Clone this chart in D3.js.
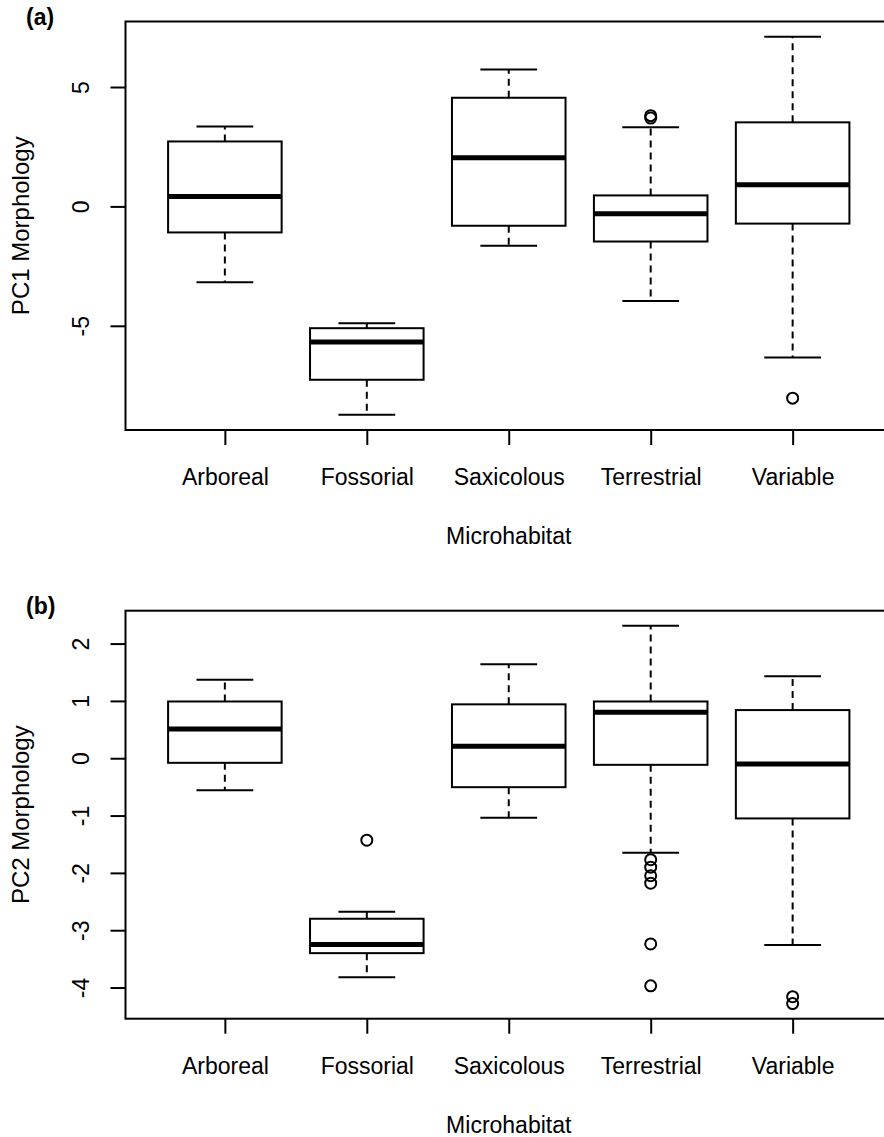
<!DOCTYPE html>
<html>
<head>
<meta charset="utf-8">
<script src="https://cdn.jsdelivr.net/npm/d3@7"></script>
<style>
  html, body { margin: 0; padding: 0; background: #fff; }
  svg { display: block; font-family: "Liberation Sans", Arial, sans-serif; }
</style>
</head>
<body>
<svg id="chart" width="884" height="1137"></svg>
<script>
// ---- data ----
const microhabitats = ["Arboreal", "Fossorial", "Saxicolous", "Terrestrial", "Variable"];

// panel (a): PC1
const pc1Low  = [-3.18, -8.73, -1.65, -3.96, -6.33];
const pc1Q1   = [-1.09, -7.26, -0.81, -1.47, -0.72];
const pc1Med  = [ 0.42, -5.68,  2.04, -0.31,  0.91];
const pc1Q3   = [ 2.72, -5.10,  4.55,  0.46,  3.52];
const pc1High = [ 3.35, -4.89,  5.73,  3.31,  7.11];
const pc1Out  = [[], [], [], [3.70, 3.80], [-8.03]];
const pc1Ticks = [-5, 0, 5];

// panel (b): PC2
const pc2Low  = [-0.56, -3.82, -1.04, -1.65, -3.26];
const pc2Q1   = [-0.08, -3.40, -0.505, -0.115, -1.05];
const pc2Med  = [ 0.51, -3.25,  0.21,  0.80, -0.10];
const pc2Q3   = [ 0.99, -2.80,  0.94,  0.99,  0.84];
const pc2High = [ 1.37, -2.68,  1.64,  2.31,  1.43];
const pc2Out  = [[], [-1.43], [], [-1.77, -1.90, -2.05, -2.18, -3.24, -3.97], [-4.16, -4.28]];
const pc2Ticks = [-4, -3, -2, -1, 0, 1, 2];

// ---- layout ----
const svg = d3.select("#chart");
const LEFT = 125.5, RIGHT = 892;
const FONT = 23;

const x = d3.scaleLinear().domain([0.3, 5.7]).range([LEFT, RIGHT]);
const unit = x(2) - x(1);

function drawPanel(opt) {
  const { top, bottom, low, q1, med, q3, high, out, ticks, yLabel, tag } = opt;

  // R style: 4% padding around data range
  const all = low.concat(high, out.flat());
  const [mn, mx] = d3.extent(all);
  const pad = (mx - mn) * 0.04;
  const y = d3.scaleLinear().domain([mn - pad, mx + pad]).range([bottom, top]);

  const g = svg.append("g");

  const rows = microhabitats.map((name, i) => ({
    name, i: i + 1, low: low[i], q1: q1[i], med: med[i], q3: q3[i], high: high[i], out: out[i]
  }));

  const box = g.selectAll("g.box").data(rows).join("g").attr("class", "box");

  // whiskers (dashed)
  box.append("line")
    .attr("x1", d => x(d.i)).attr("x2", d => x(d.i))
    .attr("y1", d => y(d.q3)).attr("y2", d => y(d.high))
    .attr("stroke", "#000").attr("stroke-width", 2).attr("stroke-dasharray", "7,5");
  box.append("line")
    .attr("x1", d => x(d.i)).attr("x2", d => x(d.i))
    .attr("y1", d => y(d.q1)).attr("y2", d => y(d.low))
    .attr("stroke", "#000").attr("stroke-width", 2).attr("stroke-dasharray", "7,5");

  // staples
  [d => d.high, d => d.low].forEach(acc => {
    box.append("line")
      .attr("x1", d => x(d.i - 0.2)).attr("x2", d => x(d.i + 0.2))
      .attr("y1", d => y(acc(d))).attr("y2", d => y(acc(d)))
      .attr("stroke", "#000").attr("stroke-width", 2);
  });

  // box
  box.append("rect")
    .attr("x", d => x(d.i - 0.4))
    .attr("width", unit * 0.8)
    .attr("y", d => y(d.q3))
    .attr("height", d => y(d.q1) - y(d.q3))
    .attr("fill", "#fff")
    .attr("stroke", "#000").attr("stroke-width", 2);

  // median
  box.append("line")
    .attr("x1", d => x(d.i - 0.4)).attr("x2", d => x(d.i + 0.4))
    .attr("y1", d => y(d.med)).attr("y2", d => y(d.med))
    .attr("stroke", "#000").attr("stroke-width", 5);

  // outliers
  box.selectAll("circle")
    .data(d => d.out.map(v => ({ i: d.i, v })))
    .join("circle")
    .attr("cx", d => x(d.i)).attr("cy", d => y(d.v))
    .attr("r", 5.5)
    .attr("fill", "none").attr("stroke", "#000").attr("stroke-width", 2);

  // frame
  g.append("rect")
    .attr("x", LEFT).attr("y", top)
    .attr("width", RIGHT - LEFT).attr("height", bottom - top)
    .attr("fill", "none").attr("stroke", "#000").attr("stroke-width", 2);

  // y axis
  const yAx = g.append("g")
    .attr("transform", `translate(${LEFT},0)`)
    .call(d3.axisLeft(y).tickValues(ticks).tickSize(15).tickFormat(d => String(d)));
  yAx.select(".domain").remove();
  yAx.selectAll("line").attr("stroke", "#000").attr("stroke-width", 2);
  yAx.selectAll("text")
    .attr("transform", "rotate(-90)")
    .attr("x", 0).attr("y", -36.5).attr("dy", 0)
    .attr("text-anchor", "middle")
    .attr("fill", "#000")
    .style("font-size", FONT + "px")
    .style("font-family", "'Liberation Sans', Arial, sans-serif");

  // x axis
  const xAx = g.append("g")
    .attr("transform", `translate(0,${bottom})`)
    .call(d3.axisBottom(x).tickValues([1, 2, 3, 4, 5]).tickSize(15)
      .tickFormat(d => microhabitats[d - 1]));
  xAx.select(".domain").remove();
  xAx.selectAll("line").attr("stroke", "#000").attr("stroke-width", 2);
  xAx.selectAll("text")
    .attr("y", 55).attr("dy", 0)
    .attr("fill", "#000")
    .style("font-size", FONT + "px")
    .style("font-family", "'Liberation Sans', Arial, sans-serif");

  // axis titles
  g.append("text")
    .attr("x", (LEFT + RIGHT) / 2).attr("y", bottom + 114)
    .attr("text-anchor", "middle")
    .style("font-size", FONT + "px")
    .text("Microhabitat");

  g.append("text")
    .attr("transform", `translate(29,${(top + bottom) / 2}) rotate(-90)`)
    .attr("text-anchor", "middle")
    .style("font-size", "24px")
    .text(yLabel);

  // panel tag
  g.append("text")
    .attr("x", 26).attr("y", top + 3)
    .style("font-size", "23px").style("font-weight", "bold")
    .text(tag);
}

drawPanel({
  top: 21.5, bottom: 430,
  low: pc1Low, q1: pc1Q1, med: pc1Med, q3: pc1Q3, high: pc1High, out: pc1Out,
  ticks: pc1Ticks, yLabel: "PC1 Morphology", tag: "(a)"
});

drawPanel({
  top: 610.7, bottom: 1018.7,
  low: pc2Low, q1: pc2Q1, med: pc2Med, q3: pc2Q3, high: pc2High, out: pc2Out,
  ticks: pc2Ticks, yLabel: "PC2 Morphology", tag: "(b)"
});
</script>
</body>
</html>
